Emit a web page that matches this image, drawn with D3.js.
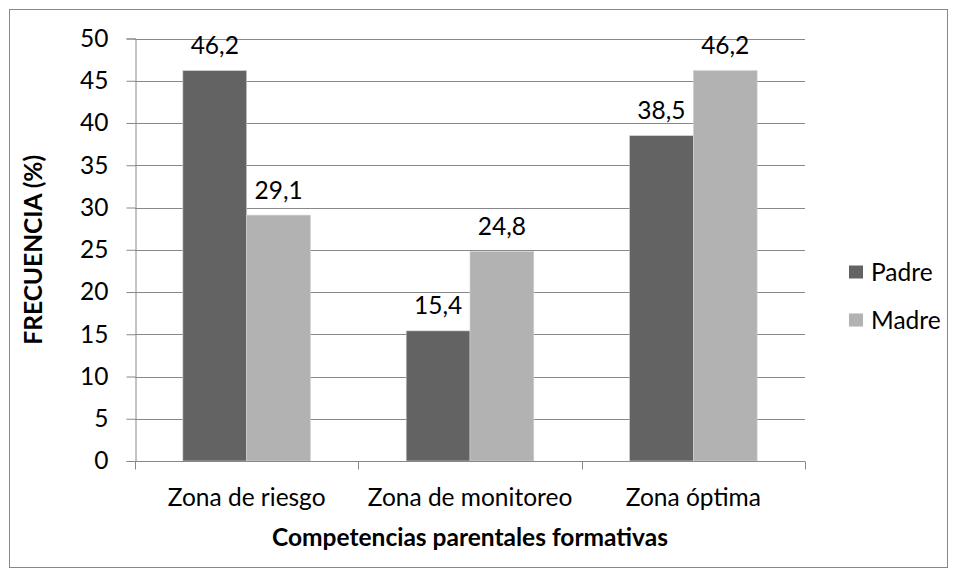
<!DOCTYPE html>
<html><head><meta charset="utf-8">
<script src="https://cdn.jsdelivr.net/npm/d3@7"></script>
<style>body{margin:0;background:#fff}svg{display:block}text{font-family:Lato,"Open Sans",sans-serif;fill:#000}</style>
</head><body>
<svg id="c" width="958" height="578"></svg>
<script>
const categories = ["Zona de riesgo", "Zona de monitoreo", "Zona óptima"];
const seriesNames = ["Padre", "Madre"];
const padreValues = [46.2, 15.4, 38.5];
const madreValues = [29.1, 24.8, 46.2];
const yTicks = [0, 5, 10, 15, 20, 25, 30, 35, 40, 45, 50];
const colors = ["#636363", "#b2b2b2"];
const FS = "24.5px";

const svg = d3.select("#c");
const L = 135, R = 805, T = 38.5, B = 461;
svg.append("rect").attr("x", 9.5).attr("y", 9.5).attr("width", 938).attr("height", 558)
  .attr("fill", "#fff").attr("stroke", "#888").attr("stroke-width", 1);

const y = d3.scaleLinear().domain([0, 50]).range([B, T]);
const x0 = d3.scaleBand().domain(categories).range([L, R]).paddingInner(0).paddingOuter(0);
const x1 = d3.scaleBand().domain(seriesNames).range([0, x0.bandwidth()]).paddingInner(0).paddingOuter(0.75);

// gridlines
svg.append("g").selectAll("line").data(yTicks.filter(d => d > 0)).join("line")
  .attr("x1", L).attr("x2", R).attr("y1", d => Math.round(y(d)) + 0.5).attr("y2", d => Math.round(y(d)) + 0.5)
  .attr("stroke", "#888").attr("stroke-width", 1);

// y axis
const yAxis = svg.append("g").attr("transform", `translate(${L + 0.5},0)`)
  .call(d3.axisLeft(y).tickValues(yTicks).tickSize(9).tickPadding(18).tickFormat(d3.format("d")));
yAxis.select(".domain").attr("stroke", "#888");
yAxis.selectAll(".tick line").attr("stroke", "#888");
yAxis.selectAll("text").style("font-size", FS).style("font-family", "Lato, sans-serif").attr("fill", "#000");

// bars
const series = [padreValues, madreValues];
const g = svg.append("g");
seriesNames.forEach((s, si) => {
  g.selectAll(null).data(categories).join("rect")
    .attr("x", c => x0(c) + x1(s))
    .attr("y", (c, i) => y(series[si][i]))
    .attr("width", x1.bandwidth())
    .attr("height", (c, i) => B - y(series[si][i]))
    .attr("fill", colors[si])
    .attr("stroke", "#d4d4d4").attr("stroke-width", 0.6);
  g.selectAll(null).data(categories).join("text")
    .attr("x", c => x0(c) + x1(s) + x1.bandwidth() / 2)
    .attr("y", (c, i) => y(series[si][i]) - 25)
    .attr("dy", "0.35em")
    .attr("text-anchor", "middle")
    .style("font-size", FS)
    .text((c, i) => d3.format(".1f")(series[si][i]).replace(".", ","));
});

// x axis
const xAxisG = svg.append("g").attr("transform", `translate(0,${B + 0.5})`);
xAxisG.append("line").attr("x1", L).attr("x2", R).attr("stroke", "#888");
const boundaries = [L, ...categories.map(c => x0(c) + x0.bandwidth())];
xAxisG.selectAll(".tk").data(boundaries).join("line")
  .attr("x1", d => Math.round(d) + 0.5).attr("x2", d => Math.round(d) + 0.5).attr("y1", 0).attr("y2", 8).attr("stroke", "#888");
xAxisG.selectAll(".lb").data(categories).join("text")
  .attr("x", c => x0(c) + x0.bandwidth() / 2).attr("y", 36).attr("dy", "0.35em")
  .attr("text-anchor", "middle").style("font-size", FS).text(c => c);

// axis titles
svg.append("text").attr("x", (L + R) / 2).attr("y", 537).attr("dy", "0.35em").attr("text-anchor", "middle")
  .style("font-size", FS).style("font-weight", "bold").text("Competencias parentales formativas");
svg.append("text").attr("transform", `translate(33,${(T + B) / 2}) rotate(-90)`).attr("dy", "0.35em")
  .attr("text-anchor", "middle").style("font-size", FS).style("font-weight", "bold").text("FRECUENCIA (%)");

// legend
const leg = svg.append("g");
seriesNames.forEach((s, i) => {
  const cy = 272 + i * 48;
  leg.append("rect").attr("x", 849).attr("y", cy - 6.5).attr("width", 14).attr("height", 13).attr("fill", colors[i]);
  leg.append("text").attr("x", 871).attr("y", cy).attr("dy", "0.35em").style("font-size", FS).text(s);
});
</script>
</body></html>
